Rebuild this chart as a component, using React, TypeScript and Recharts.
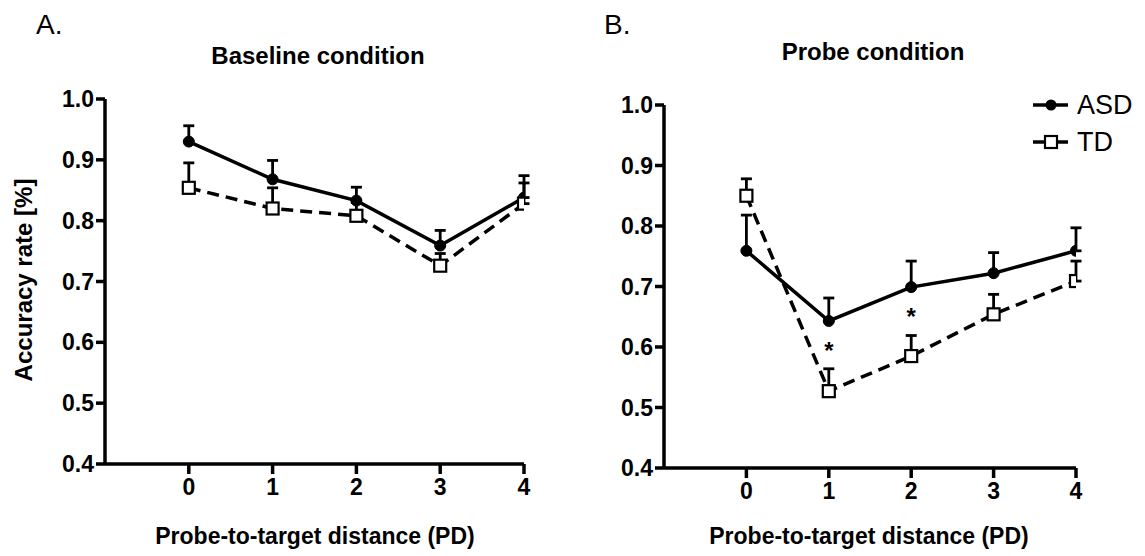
import React from 'react';
import {
  LineChart,
  Line,
  XAxis,
  YAxis,
  ErrorBar,
  ReferenceDot,
} from 'recharts';

const FONT = '"Liberation Sans", Arial, Helvetica, sans-serif';

// probe-to-target distance (PD)
const distances = [0, 1, 2, 3, 4];
const xTicks = [0, 1, 2, 3, 4];
const yTicks = [0.4, 0.5, 0.6, 0.7, 0.8, 0.9, 1.0];

// Baseline condition
const baselineAsd = [0.930, 0.868, 0.833, 0.759, 0.838];
const baselineAsdErr = [0.026, 0.031, 0.022, 0.025, 0.036];
const baselineTd = [0.854, 0.820, 0.808, 0.726, 0.828];
const baselineTdErr = [0.041, 0.034, 0.022, 0.020, 0.034];

// Probe condition
const probeAsd = [0.759, 0.643, 0.699, 0.722, 0.759];
const probeAsdErr = [0.059, 0.038, 0.043, 0.034, 0.038];
const probeTd = [0.850, 0.527, 0.585, 0.654, 0.709];
const probeTdErr = [0.028, 0.037, 0.034, 0.033, 0.033];

// significance markers in probe condition
const probeStars = [
  { pd: 1, y: 0.603 },
  { pd: 2, y: 0.660 },
];

const buildRows = (asd: number[], asdErr: number[], td: number[], tdErr: number[]) =>
  distances.map((pd, i) => ({
    pd,
    asd: asd[i],
    asdErr: [0, asdErr[i]], // upper-only error bars
    td: td[i],
    tdErr: [0, tdErr[i]],
  }));

const baselineRows = buildRows(baselineAsd, baselineAsdErr, baselineTd, baselineTdErr);
const probeRows = buildRows(probeAsd, probeAsdErr, probeTd, probeTdErr);

const CircleDot = (props: any) => {
  const { cx, cy } = props;
  if (cx == null || cy == null) return null;
  return <circle cx={cx} cy={cy} r={5.5} fill="#000" stroke="#000" strokeWidth={1} />;
};

const SquareDot = (props: any) => {
  const { cx, cy } = props;
  if (cx == null || cy == null) return null;
  return <rect x={cx - 6} y={cy - 6} width={12} height={12} fill="#fff" stroke="#000" strokeWidth={2.2} />;
};

const StarShape = (props: any) => {
  const { cx, cy } = props;
  return (
    <text x={cx} y={cy + 14} textAnchor="middle" fontFamily={FONT} fontWeight={700} fontSize={24} fill="#000">
      *
    </text>
  );
};

const tickStyle = { fontFamily: FONT, fontWeight: 700, fontSize: 23, fill: '#000' };

interface PanelProps {
  rows: any[];
  width: number;
  margin: { top: number; right: number; bottom: number; left: number };
  stars?: { pd: number; y: number }[];
}

function Panel({ rows, width, margin, stars }: PanelProps) {
  return (
    <LineChart width={width} height={556} data={rows} margin={margin}>
      <XAxis
        type="number"
        dataKey="pd"
        domain={[-1, 4]}
        ticks={xTicks}
        allowDataOverflow
        height={40}
        tickSize={10}
        tickMargin={5}
        axisLine={{ stroke: '#000', strokeWidth: 3.5 }}
        tickLine={{ stroke: '#000', strokeWidth: 3.5 }}
        tick={tickStyle}
      />
      <YAxis
        type="number"
        domain={[0.4, 1.0]}
        ticks={yTicks}
        allowDataOverflow
        width={60}
        tickSize={9}
        tickMargin={2}
        tickFormatter={(v: number) => v.toFixed(1)}
        axisLine={{ stroke: '#000', strokeWidth: 3.5 }}
        tickLine={{ stroke: '#000', strokeWidth: 3.5 }}
        tick={tickStyle}
      />
      <Line
        type="linear"
        dataKey="asd"
        name="ASD"
        stroke="#000"
        strokeWidth={3.5}
        dot={<CircleDot />}
        activeDot={false}
        isAnimationActive={false}
      >
        <ErrorBar dataKey="asdErr" direction="y" width={5.5} stroke="#000" strokeWidth={2.8} />
      </Line>
      <Line
        type="linear"
        dataKey="td"
        name="TD"
        stroke="#000"
        strokeWidth={3.5}
        strokeDasharray="12 7"
        dot={<SquareDot />}
        activeDot={false}
        isAnimationActive={false}
      >
        <ErrorBar dataKey="tdErr" direction="y" width={5.5} stroke="#000" strokeWidth={2.8} />
      </Line>
      {(stars || []).map((s, i) => (
        <ReferenceDot key={i} x={s.pd} y={s.y} r={0} shape={<StarShape />} />
      ))}
    </LineChart>
  );
}

export default function App() {
  const text = { fontFamily: FONT, fill: '#000' };
  return (
    <div style={{ position: 'absolute', left: 0, top: 0, width: 1145, height: 556, background: '#fff', overflow: 'hidden' }}>
      <div style={{ position: 'absolute', left: 0, top: 0 }}>
        <Panel
          rows={baselineRows}
          width={560}
          margin={{ top: 99, right: 36, bottom: 52, left: 45 }}
        />
      </div>
      <div style={{ position: 'absolute', left: 580, top: 0 }}>
        <Panel
          rows={probeRows}
          width={565}
          margin={{ top: 105, right: 69, bottom: 48, left: 24 }}
          stars={probeStars}
        />
      </div>
      <svg width={1145} height={556} style={{ position: 'absolute', left: 0, top: 0, pointerEvents: 'none' }}>
        <text x={36} y={34} fontSize={28} {...text}>A.</text>
        <text x={604} y={34} fontSize={28} {...text}>B.</text>
        <text x={318} y={64} fontSize={24} fontWeight={700} textAnchor="middle" {...text}>Baseline condition</text>
        <text x={873} y={60} fontSize={24} fontWeight={700} textAnchor="middle" {...text}>Probe condition</text>
        <text
          x={0}
          y={0}
          fontSize={24}
          fontWeight={700}
          textAnchor="middle"
          transform="translate(32 280) rotate(-90)"
          {...text}
        >
          Accuracy rate [%]
        </text>
        <text x={315} y={544} fontSize={23} fontWeight={700} textAnchor="middle" {...text}>Probe-to-target distance (PD)</text>
        <text x={869} y={544} fontSize={23} fontWeight={700} textAnchor="middle" {...text}>Probe-to-target distance (PD)</text>

        {/* legend */}
        <line x1={1033} y1={105} x2={1068} y2={105} stroke="#000" strokeWidth={3.5} />
        <circle cx={1051} cy={105} r={5.5} fill="#000" />
        <text x={1077} y={114} fontSize={27} {...text}>ASD</text>
        <line x1={1033} y1={142} x2={1068} y2={142} stroke="#000" strokeWidth={3.5} />
        <rect x={1045} y={136} width={12} height={12} fill="#fff" stroke="#000" strokeWidth={2.2} />
        <text x={1077} y={151} fontSize={27} {...text}>TD</text>
      </svg>
    </div>
  );
}
